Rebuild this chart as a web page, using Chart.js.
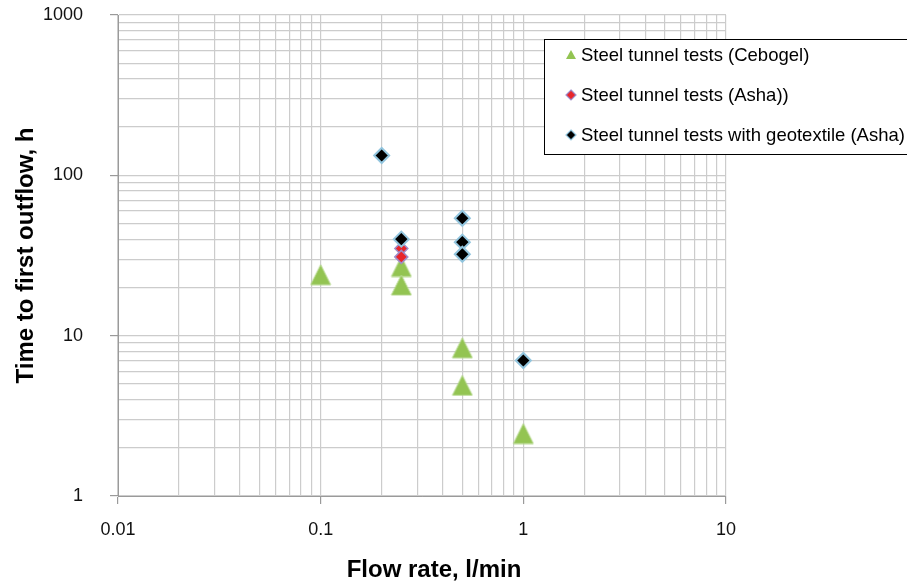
<!DOCTYPE html>
<html>
<head>
<meta charset="utf-8">
<script src="https://cdn.jsdelivr.net/npm/chart.js@4.4.0/dist/chart.umd.min.js"></script>
<style>
  html, body { margin: 0; padding: 0; background: #fff; }
  #wrap { width: 907px; height: 586px; }
</style>
</head>
<body>
<div id="wrap"><canvas id="chart" width="907" height="586"></canvas></div>
<script>
const seriesNames = ['Steel tunnel tests (Cebogel)', 'Steel tunnel tests (Asha))', 'Steel tunnel tests with geotextile (Asha)'];
const cebogelFlow = [0.1, 0.25, 0.25, 0.5, 0.5, 1];
const cebogelTime = [24, 27, 20.7, 8.4, 4.9, 2.45];
const ashaFlow = [0.25, 0.25];
const ashaTime = [35, 31];
const geoFlow = [0.2, 0.25, 0.5, 0.5, 0.5, 1];
const geoTime = [133, 40, 54, 38.3, 32.2, 7];
const xTickLabels = ['0.01', '0.1', '1', '10'];
const yTickLabels = ['1', '10', '100', '1000'];

const FONT = "'Liberation Sans', Arial, sans-serif";
const GREEN = '#93c452';
const xMajors = xTickLabels.map(Number);
const yMajors = yTickLabels.map(Number);

// 1..9 per decade so every minor gridline gets drawn
function logTicks(majors) {
    const out = [];
    majors.forEach((m, i) => {
        if (i < majors.length - 1) {
            for (let k = 1; k < 10; k++) out.push({ value: +(m * k).toPrecision(6) });
        } else {
            out.push({ value: m });
        }
    });
    return out;
}

function pts(xs, ys) {
    return xs.map((x, i) => ({ x: x, y: ys[i] }));
}

// triangle centred on its bounding box (like the Excel marker)
function triangleImg(w, h, fill) {
    const c = document.createElement('canvas');
    c.width = w + 2; c.height = h + 2;
    const g = c.getContext('2d');
    g.beginPath();
    g.moveTo(c.width / 2, 1);
    g.lineTo(w + 1, h + 1);
    g.lineTo(1, h + 1);
    g.closePath();
    g.fillStyle = fill;
    g.fill();
    g.strokeStyle = 'rgba(180,215,140,0.9)';
    g.lineWidth = 1;
    g.stroke();
    return c;
}

const triMarker = triangleImg(20, 20, GREEN);

const legendBox = {
    id: 'legendBox',
    afterDraw(chart) {
        const ctx = chart.ctx;
        ctx.save();

        // x title sits a little right of the plot centre in the original
        ctx.fillStyle = '#000';
        ctx.font = 'bold 24px ' + FONT;
        ctx.textAlign = 'center';
        ctx.textBaseline = 'middle';
        ctx.fillText('Flow rate, l/min', 434, 570);

        ctx.fillStyle = '#fff';
        ctx.fillRect(544.5, 39.5, 400, 115);
        ctx.strokeStyle = '#000';
        ctx.lineWidth = 1;
        ctx.strokeRect(544.5, 39.5, 400, 115);

        const mx = 571, rows = [55, 95, 135];
        // triangle
        ctx.beginPath();
        ctx.moveTo(mx, rows[0] - 5);
        ctx.lineTo(mx + 5, rows[0] + 4);
        ctx.lineTo(mx - 5, rows[0] + 4);
        ctx.closePath();
        ctx.fillStyle = GREEN;
        ctx.fill();
        // diamonds
        const diamond = (y, fill, stroke) => {
            ctx.beginPath();
            ctx.moveTo(mx, y - 5);
            ctx.lineTo(mx + 5, y);
            ctx.lineTo(mx, y + 5);
            ctx.lineTo(mx - 5, y);
            ctx.closePath();
            ctx.fillStyle = fill;
            ctx.fill();
            ctx.strokeStyle = stroke;
            ctx.lineWidth = 1.2;
            ctx.stroke();
        };
        diamond(rows[1], '#e8262b', '#a08cc8');
        diamond(rows[2], '#000', '#92c5de');

        ctx.fillStyle = '#000';
        ctx.font = '18.5px ' + FONT;
        ctx.textBaseline = 'middle';
        ctx.textAlign = 'left';
        seriesNames.forEach((s, i) => ctx.fillText(s, 581, rows[i] + 1));
        ctx.restore();
    }
};

const ctx = document.getElementById('chart').getContext('2d');

new Chart(ctx, {
    type: 'scatter',
    data: {
        datasets: [
            {
                label: seriesNames[0],
                data: pts(cebogelFlow, cebogelTime),
                pointStyle: triMarker,
                order: 3
            },
            {
                label: seriesNames[1],
                data: pts(ashaFlow, ashaTime),
                pointStyle: 'rectRot',
                pointRadius: 6.5,
                backgroundColor: '#e8262b',
                borderColor: '#a08cc8',
                borderWidth: 1.5,
                order: 2
            },
            {
                label: seriesNames[2],
                data: pts(geoFlow, geoTime),
                pointStyle: 'rectRot',
                pointRadius: 7.5,
                backgroundColor: '#000',
                borderColor: '#92c5de',
                borderWidth: 2,
                order: 1
            }
        ]
    },
    options: {
        responsive: false,
        animation: false,
        layout: { padding: { top: 15, right: 181, left: 0, bottom: 0 } },
        plugins: {
            legend: { display: false },
            tooltip: { enabled: false }
        },
        scales: {
            x: {
                type: 'logarithmic',
                min: 0.01,
                max: 10,
                afterBuildTicks: (s) => { s.ticks = logTicks(xMajors); },
                afterFit: (s) => { s.height = 90; s.paddingLeft = 0; s.paddingRight = 0; },
                grid: {
                    color: '#cccccc',
                    lineWidth: 1.2,
                    tickLength: 8,
                    tickColor: (c) => xMajors.includes(c.tick && c.tick.value) ? '#9a9a9a' : 'rgba(0,0,0,0)'
                },
                border: { color: '#9a9a9a', width: 1 },
                ticks: {
                    autoSkip: false,
                    maxRotation: 0,
                    padding: 15,
                    color: '#111',
                    font: { family: FONT, size: 18 },
                    callback: (v) => {
                        const i = xMajors.indexOf(v);
                        return i >= 0 ? xTickLabels[i] : '';
                    }
                },
                title: { display: false }
            },
            y: {
                type: 'logarithmic',
                min: 1,
                max: 1000,
                afterBuildTicks: (s) => { s.ticks = logTicks(yMajors); },
                afterFit: (s) => { s.width = 118; s.paddingTop = 0; s.paddingBottom = 0; },
                grid: {
                    color: '#cccccc',
                    lineWidth: 1.2,
                    tickLength: 8,
                    tickColor: (c) => yMajors.includes(c.tick && c.tick.value) ? '#9a9a9a' : 'rgba(0,0,0,0)'
                },
                border: { color: '#9a9a9a', width: 1 },
                ticks: {
                    autoSkip: false,
                    padding: 27,
                    color: '#111',
                    font: { family: FONT, size: 18 },
                    callback: (v) => {
                        const i = yMajors.indexOf(v);
                        return i >= 0 ? yTickLabels[i] : '';
                    }
                },
                title: {
                    display: true,
                    text: 'Time to first outflow, h',
                    color: '#000',
                    font: { family: FONT, size: 24, weight: 'bold' },
                    padding: { top: 12, bottom: 0 }
                }
            }
        }
    },
    plugins: [legendBox]
});
</script>
</body>
</html>
